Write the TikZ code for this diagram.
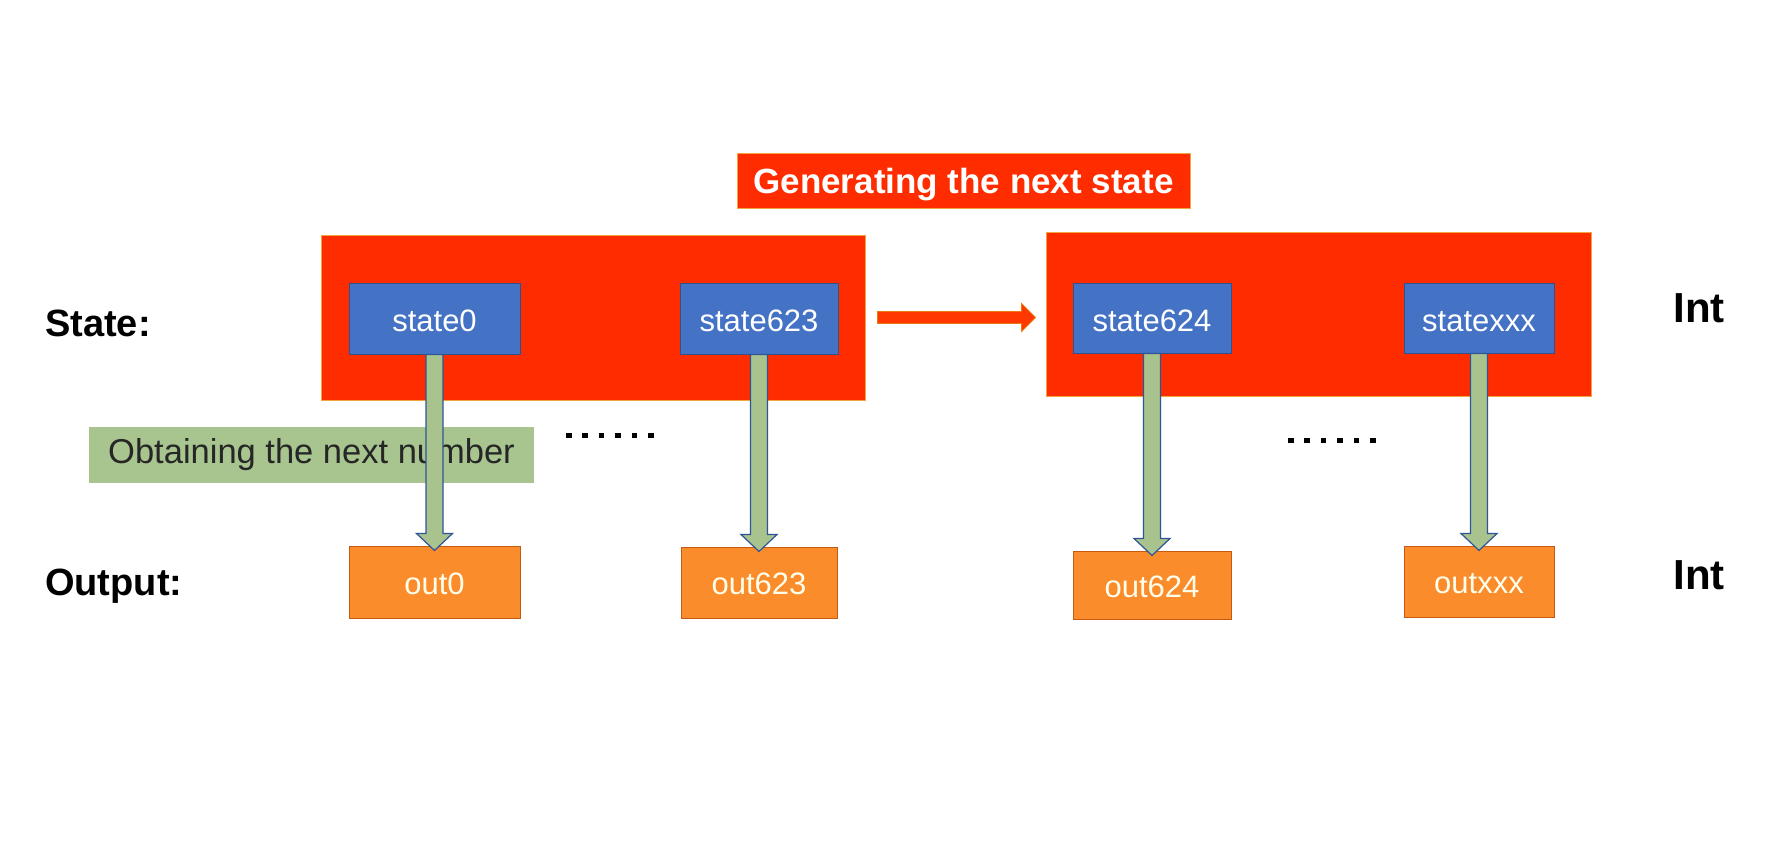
\documentclass[tikz,border=0pt]{standalone}
\usepackage{fontspec}
\setmainfont{Liberation Sans}
\usetikzlibrary{calc}
\definecolor{bigred}{HTML}{FF2C00}
\definecolor{bigredline}{HTML}{F2A640}
\definecolor{stblue}{HTML}{4472C4}
\definecolor{stblueline}{HTML}{2F528F}
\definecolor{outorange}{HTML}{FA8C2C}
\definecolor{outline}{HTML}{C55A11}
\definecolor{gfill}{HTML}{A9C38E}
\definecolor{gline}{HTML}{2F5597}
\definecolor{lblgreen}{HTML}{A8C590}
\definecolor{arrred}{HTML}{FF3800}
\definecolor{arrline}{HTML}{E87A10}
\tikzset{
  bigbox/.style={fill=bigred, draw=bigredline, line width=1pt, inner sep=0pt},
  stbox/.style={fill=stblue, draw=stblueline, line width=1pt, inner sep=0pt, text=white,
    text height=26pt, text depth=0pt, font=\fontsize{31}{36}\selectfont},
  outbox/.style={fill=outorange, draw=outline, line width=1pt, inner sep=0pt, text=white!92!yellow,
    text height=24pt, text depth=0pt, font=\fontsize{31}{36}\selectfont},
  titlebox/.style={fill=bigred, draw=bigredline, line width=0.8pt, inner sep=0pt, text=white,
    text height=26pt, text depth=0pt, font=\fontsize{35}{40}\selectfont\bfseries},
  lblbox/.style={fill=lblgreen, inner sep=0pt, text=black!85,
    font=\fontsize{34.5}{40}\selectfont},
  rowlabel/.style={anchor=west, inner sep=0pt, font=\fontsize{38}{44}\selectfont\bfseries},
  intlabel/.style={inner sep=0pt, font=\fontsize{42}{48}\selectfont\bfseries},
  garrowstyle/.style={fill=gfill, draw=gline, line width=1.2pt, line join=miter},
  rarrowstyle/.style={fill=arrred, draw=arrline, line width=0.8pt, line join=miter},
  dotsq/.style={fill=black, draw=none}
}
\newcommand{\grnarrow}[2]{%
  \path[garrowstyle] let \p1=(#1.south), \p2=(#2.north) in
    (\x1-8.5pt,\y1) -- (\x1-8.5pt,\y2+12pt) -- (\x1-18pt,\y2+12pt) -- (\x1,\y2-5pt)
    -- (\x1+18pt,\y2+12pt) -- (\x1+8.5pt,\y2+12pt) -- (\x1+8.5pt,\y1) -- cycle;}
\begin{document}
\begin{tikzpicture}[x=1pt,y=-1pt]
\useasboundingbox (0,0) rectangle (1775,847);
\fill[white] (0,0) rectangle (1775,847);

% title
\node[titlebox, minimum width=453pt, minimum height=55pt] (title) at (963.5,180.5) {Generating the next state};

% big red boxes
\node[bigbox, minimum width=544pt, minimum height=165pt] (bigL) at (593,317.5) {};
\node[bigbox, minimum width=545pt, minimum height=164pt] (bigR) at (1318.5,314) {};

% state boxes
\node[stbox, minimum width=171pt, minimum height=71pt] (s0) at (434.5,318.5) {state0};
\node[stbox, minimum width=158pt, minimum height=71pt] (s623) at (759,318.5) {state623};
\node[stbox, minimum width=158pt, minimum height=70pt] (s624) at (1152,318) {state624};
\node[stbox, minimum width=150pt, minimum height=70pt] (sxxx) at (1479,318) {statexxx};

% output boxes
\node[outbox, minimum width=171pt, minimum height=72pt] (o0) at (434.5,582) {out0};
\node[outbox, minimum width=156pt, minimum height=71pt] (o623) at (759,582.5) {out623};
\node[outbox, minimum width=158pt, minimum height=68pt] (o624) at (1152,585) {out624};
\node[outbox, minimum width=150pt, minimum height=71pt] (oxxx) at (1479,581.5) {outxxx};

% label
\node[lblbox, minimum width=445pt, minimum height=56pt] (lbl) at (311.5,455) {Obtaining the next number};

% green arrows
\grnarrow{s0}{o0}
\grnarrow{s623}{o623}
\grnarrow{s624}{o624}
\grnarrow{sxxx}{oxxx}

% red arrow
\path[rarrowstyle] let \p1=(bigL.east), \p2=(bigR.west) in
  (\x1+12pt,\y1+6pt) -- (\x2-24pt,\y1+6pt) -- (\x2-24pt,\y1+14pt) -- (\x2-10pt,\y1)
  -- (\x2-24pt,\y1-14pt) -- (\x2-24pt,\y1-6pt) -- (\x1+12pt,\y1-6pt) -- cycle;

% dots
\foreach \i in {0,...,5} {
  \fill[dotsq] (566+\i*16.4,432.5) rectangle ++(5.6,5.6);
  \fill[dotsq] (1288+\i*16.4,437.5) rectangle ++(5.6,5.6);
}

% row labels
\node[rowlabel] (lstate) at (45,323) {State:};
\node[rowlabel] (lout) at (45,586) {Output:};
\node[intlabel] (int1) at (1699,308) {Int};
\node[intlabel] (int2) at (1699,575) {Int};
\end{tikzpicture}
\end{document}
